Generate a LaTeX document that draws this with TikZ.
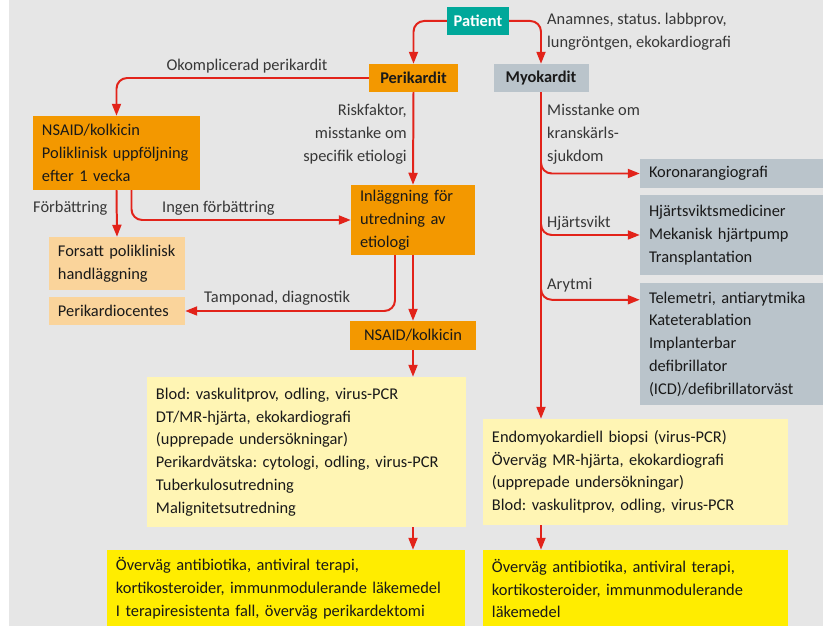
\documentclass[tikz,border=0pt]{standalone}
\usepackage{fontspec}
\setmainfont{Carlito}
\frenchspacing
\usetikzlibrary{arrows.meta}
\definecolor{bggray}{RGB}{230,230,230}
\definecolor{cteal}{RGB}{0,168,154}
\definecolor{corange}{RGB}{243,152,0}
\definecolor{clorange}{RGB}{250,212,155}
\definecolor{cslate}{RGB}{186,196,203}
\definecolor{clyellow}{RGB}{255,245,180}
\definecolor{cyellow}{RGB}{255,237,0}
\definecolor{cred}{RGB}{226,35,26}
\definecolor{ctext}{RGB}{25,25,25}
\definecolor{clabel}{RGB}{55,55,55}

\begin{document}
\begin{tikzpicture}[x=0.03cm,y=-0.03cm,font=\fontsize{14}{19.4}\selectfont,
   arr/.style={draw=cred,line width=1.7pt,rounded corners=0.32cm,-{Triangle[length=0.36cm,width=0.27cm]}},
   bx/.style={fill=#1,text=ctext,inner xsep=0.27cm,inner ysep=0pt,align=left},
   hd/.style={fill=#1,text=ctext,font=\fontsize{14}{19.4}\selectfont\bfseries,inner xsep=0.2cm,inner ysep=0pt,minimum height=0.84cm},
   lbl/.style={text=clabel,inner sep=0pt}]
  \useasboundingbox[fill=white] (0,0) rectangle (829,626);
  \fill[bggray] (9,0) rectangle (823,626);
  % top
  \node[hd=cteal,text=white,minimum width=1.86cm] (pat) at (478,21) {Patient};
  \node[hd=corange,minimum width=2.67cm] (peri) at (413.5,78) {Perikardit};
  \node[hd=cslate,minimum width=2.85cm] (myo) at (541,78) {Myokardit};
  % perikardit side
  \node[bx=corange,text width=4.47cm,minimum height=2.22cm] (nsa) at (116.5,153) {NSAID/kolkicin\\Poliklinisk uppföljning\\ efter 1 vecka};
  \node[bx=corange,text width=3.18cm,minimum height=2.1cm] (inl) at (413,220) {Inläggning för\\utredning av\\etiologi};
  \node[bx=clorange,text width=3.54cm,minimum height=1.59cm] (fors) at (117,263.5) {Forsatt poliklinisk\\handläggning};
  \node[bx=clorange,text width=3.54cm,minimum height=0.84cm] (pcen) at (117,311) {Perikardiocentes};
  \node[bx=corange,minimum width=3.78cm,minimum height=0.87cm,align=center] (nsb) at (413,335.5) {NSAID/kolkicin};
  \node[bx=clyellow,text width=9.03cm,minimum height=4.5cm] (utr) at (306.5,452) {Blod: vaskulitprov, odling, virus-PCR\\DT/MR-hjärta, ekokardiografi\\(upprepade undersökningar)\\Perikardvätska: cytologi, odling, virus-PCR\\Tuberkulosutredning\\Malignitetsutredning};
  \node[bx=cyellow,text width=10.2cm,minimum height=2.31cm] (beh) at (286,588.5) {Överväg antibiotika, antiviral terapi,\\kortikosteroider, immunmodulerande läkemedel\\I terapiresistenta fall, överväg perikardektomi};
  % myokardit side
  \node[bx=cslate,text width=4.95cm,minimum height=0.87cm] (kor) at (731.5,173.5) {Koronarangiografi};
  \node[bx=cslate,text width=4.95cm,minimum height=2.4cm] (hsv) at (731.5,235) {Hjärtsviktsmediciner\\Mekanisk hjärtpump\\Transplantation};
  \node[bx=cslate,text width=4.95cm,minimum height=3.66cm] (ary) at (731.5,344) {Telemetri, antiarytmika\\Kateterablation\\Implanterbar\\defibrillator\\(ICD)/defibrillatorväst};
  \node[bx=clyellow,text width=8.61cm,minimum height=3.18cm] (myu) at (635.5,472) {Endomyokardiell biopsi (virus-PCR)\\Överväg MR-hjärta, ekokardiografi\\(upprepade undersökningar)\\Blod: vaskulitprov, odling, virus-PCR};
  \node[bx=cyellow,text width=8.61cm,minimum height=2.31cm] (myb) at (635.5,588.5) {Överväg antibiotika, antiviral terapi,\\kortikosteroider, immunmodulerande\\läkemedel};
  % labels
  \node[lbl] (l1) at (247,66) {Okomplicerad perikardit};
  \node[lbl,anchor=east,align=right] (l2) at (407,134) {Riskfaktor,\\misstanke om\\specifik etiologi};
  \node[lbl,anchor=west] (l3) at (33,208) {Förbättring};
  \node[lbl,anchor=west] (l4) at (162,208) {Ingen förbättring};
  \node[lbl,anchor=west] (l5) at (204,298) {Tamponad, diagnostik};
  \node[lbl,anchor=west,align=left] (l6) at (547,32) {Anamnes, status. labbprov,\\lungröntgen, ekokardiografi};
  \node[lbl,anchor=west,align=left] (l7) at (547,134) {Misstanke om\\kranskärls-\\sjukdom};
  \node[lbl,anchor=west] (l8) at (547,223) {Hjärtsvikt};
  \node[lbl,anchor=west] (l9) at (547,285) {Arytmi};
  % arrows
  \draw[arr] (pat.west) -| (peri.north);
  \draw[arr] (pat.east) -| (myo.north);
  \draw[arr] (peri.west) -| (nsa.north);
  \draw[arr] (peri.south) -- (inl.north);
  \draw[arr] (nsa.south) -- (fors.north);
  \draw[arr] ([xshift=0.45cm]nsa.south) |- (inl.west);
  \draw[arr] ([xshift=-0.54cm]inl.south) |- (pcen.east);
  \draw[arr] (inl.south) -- (nsb.north);
  \draw[arr] (nsb.south) -- (utr.north -| nsb.south);
  \draw[arr] (utr.south -| nsb.south) -- (beh.north -| nsb.south);
  \draw[arr] (myo.south) -- (myo.south |- myu.north);
  \draw[arr] (myo.south |- kor.north) |- (kor.west);
  \draw[arr] (myo.south |- hsv.north) |- (hsv.west);
  \draw[arr] (myo.south |- ary.north) |- ([yshift=-0.51cm]ary.north west);
  \draw[arr] (myu.south -| myo.south) -- (myb.north -| myo.south);
\end{tikzpicture}
\end{document}
